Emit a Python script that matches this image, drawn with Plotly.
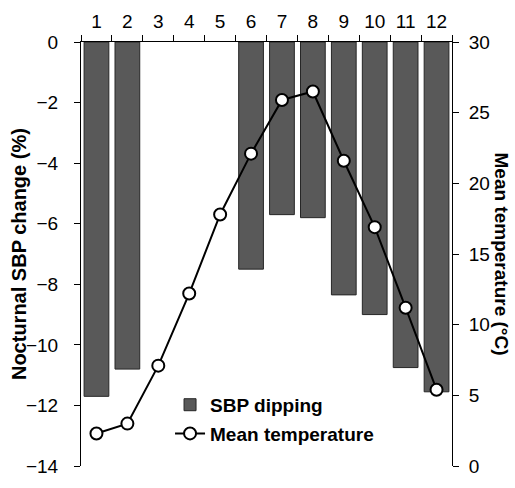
import plotly.graph_objects as go

months = [str(i) for i in range(1, 13)]
sbp_dipping = [-11.7, -10.8, None, None, None, -7.5, -5.7, -5.8, -8.35, -9.0, -10.75, -11.55]
mean_temp = [2.3, 3.0, 7.1, 12.2, 17.8, 22.1, 25.9, 26.5, 21.6, 16.9, 11.2, 5.4]

FONT = "Liberation Sans, Arial, sans-serif"

fig = go.Figure()
fig.add_trace(go.Bar(
    x=months, y=sbp_dipping, name="SBP dipping",
    marker=dict(color="#595959", line=dict(color="#262626", width=1)),
    width=0.8, yaxis="y", legendgroup="a",
))
fig.add_trace(go.Scatter(
    x=months, y=mean_temp, name="Mean temperature", mode="lines+markers",
    line=dict(color="black", width=2),
    marker=dict(symbol="circle", size=12, color="white", line=dict(color="black", width=2)),
    yaxis="y2", legendgroup="b",
))

fig.update_layout(
    width=515, height=488,
    margin=dict(l=81, r=63, t=39, b=11),
    plot_bgcolor="white", paper_bgcolor="white",
    font=dict(family=FONT, size=19, color="black"),
    xaxis=dict(
        type="category", side="top", range=[-0.5, 11.5],
        showline=True, linecolor="black", linewidth=1,
        ticks="outside", tickson="boundaries", ticklen=6, tickcolor="black",
        ticklabelstandoff=5,
        showgrid=False, zeroline=False,
    ),
    yaxis=dict(
        range=[-14, 0], dtick=2, tick0=0,
        showline=True, linecolor="black", linewidth=1,
        ticks="outside", ticklen=6, tickcolor="black",
        ticklabelstandoff=12,
        showgrid=False, zeroline=False,
    ),
    yaxis2=dict(
        overlaying="y", side="right", range=[0, 30], dtick=5,
        showline=True, linecolor="black", linewidth=1,
        ticks="outside", ticklen=6, tickcolor="black",
        ticklabelstandoff=6,
        showgrid=False, zeroline=False,
    ),
    legend=dict(
        x=0.24, y=0.189, xanchor="left", yanchor="top",
        bgcolor="rgba(0,0,0,0)", traceorder="grouped", tracegroupgap=1,
        font=dict(family=FONT, size=19, color="black", weight="bold"),
    ),
    showlegend=True,
    annotations=[
        dict(text="<b>Nocturnal SBP change (%)</b>", xref="paper", yref="paper",
             x=-0.167, y=0.5, xanchor="center", yanchor="middle", textangle=-90,
             showarrow=False, font=dict(size=20)),
        dict(text="<b>Mean temperature (°C)</b>", xref="paper", yref="paper",
             x=1.136, y=0.5, xanchor="center", yanchor="middle", textangle=90,
             showarrow=False, font=dict(size=19)),
    ],
)

fig.write_html(
    "out.html",
    config={"displayModeBar": False},
    post_script="document.body.style.margin='0';document.body.style.overflow='hidden';",
)
